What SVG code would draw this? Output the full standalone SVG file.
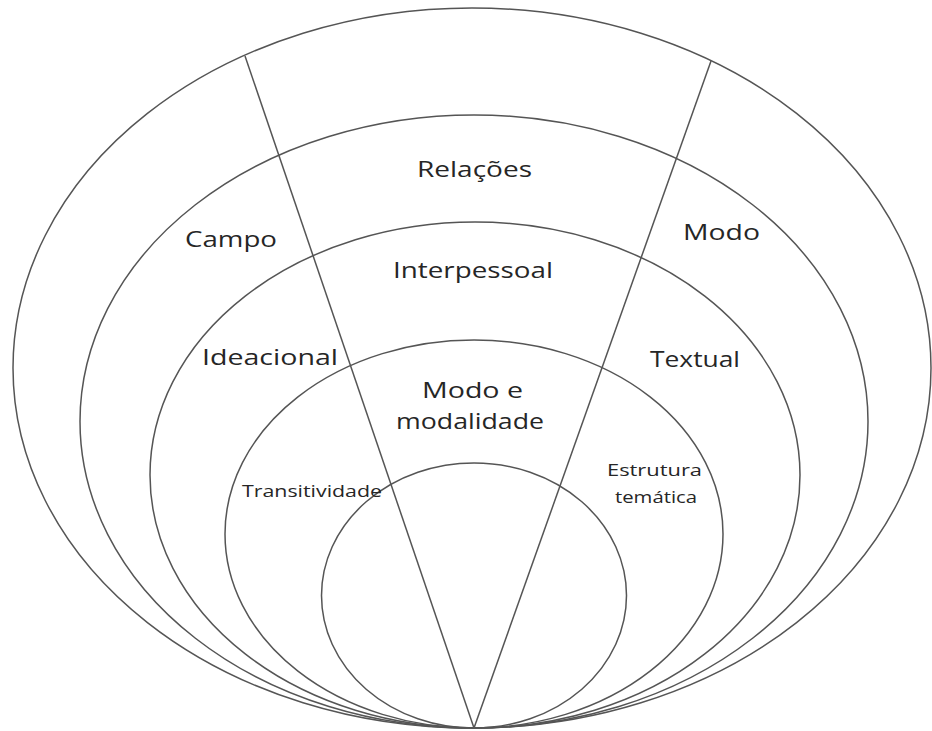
<svg xmlns="http://www.w3.org/2000/svg" width="932" height="731" viewBox="0 0 932 731">
<style>
.ring{fill:none;stroke:#555;stroke-width:1.5}
.div{stroke:#555;stroke-width:1.5;fill:none}
.lbl{font-family:"Open Sans","Liberation Sans",sans-serif;font-size:21px;fill:#262626}
.sm{font-family:"Open Sans","Liberation Sans",sans-serif;font-size:16px;fill:#262626}
</style>
<rect width="932" height="731" fill="#fff"/>
<g id="ring1"><ellipse class="ring" cx="472" cy="368" rx="459" ry="360"/></g>
<g id="ring2"><ellipse class="ring" cx="474" cy="421.5" rx="394" ry="306.5"/></g>
<g id="ring3"><ellipse class="ring" cx="475" cy="475" rx="325" ry="253"/></g>
<g id="ring4"><ellipse class="ring" cx="474" cy="534" rx="249" ry="194"/></g>
<g id="ring5"><ellipse class="ring" cx="474" cy="595.5" rx="152.5" ry="132.5"/></g>
<g id="connectors">
<line class="div" x1="474" y1="728" x2="245" y2="56"/>
<line class="div" x1="474" y1="728" x2="711" y2="61"/>
</g>
<g id="labels">
<text class="lbl" x="417" y="177" textLength="115" lengthAdjust="spacingAndGlyphs">Relações</text>
<text class="lbl" x="185" y="247" textLength="92" lengthAdjust="spacingAndGlyphs">Campo</text>
<text class="lbl" x="683" y="240" textLength="77" lengthAdjust="spacingAndGlyphs">Modo</text>
<text class="lbl" x="393" y="278" textLength="160" lengthAdjust="spacingAndGlyphs">Interpessoal</text>
<text class="lbl" x="202" y="365" textLength="136" lengthAdjust="spacingAndGlyphs">Ideacional</text>
<text class="lbl" x="650" y="367" textLength="90" lengthAdjust="spacingAndGlyphs">Textual</text>
<text class="lbl" x="422" y="398" textLength="101" lengthAdjust="spacingAndGlyphs">Modo e</text>
<text class="lbl" x="396" y="429" textLength="148" lengthAdjust="spacingAndGlyphs">modalidade</text>
<text class="sm" x="242" y="497" textLength="140" lengthAdjust="spacingAndGlyphs">Transitividade</text>
<text class="sm" x="607" y="476" textLength="95" lengthAdjust="spacingAndGlyphs">Estrutura</text>
<text class="sm" x="615" y="503" textLength="82" lengthAdjust="spacingAndGlyphs">temática</text>
</g>
</svg>
